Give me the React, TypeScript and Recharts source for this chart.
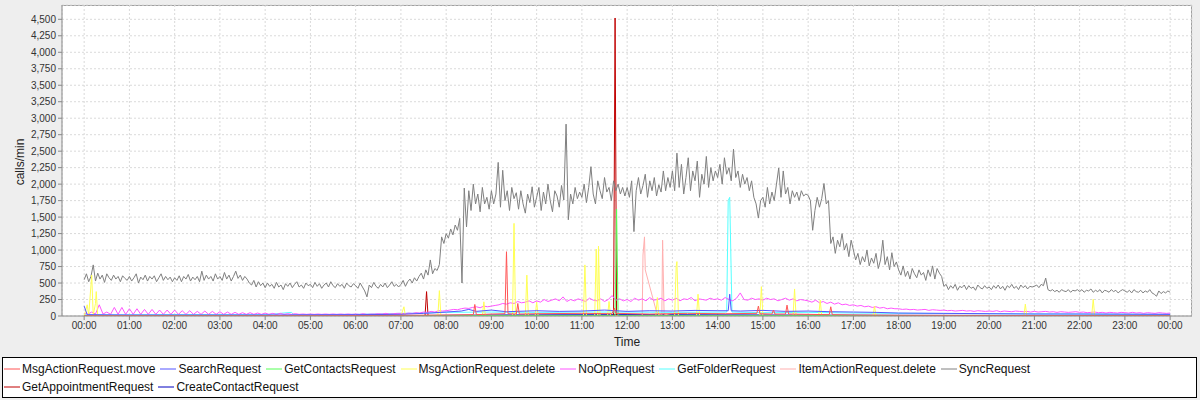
import React from 'react';
import { LineChart, Line, XAxis, YAxis, CartesianGrid } from 'recharts';

// SyncRequest: one value every 3 minutes, one row per hour (00:00 .. 23:57), then 24:00
const syncRequest = [
  550, 640, 520, 600, 775, 530, 650, 560, 620, 510, 640, 580, 540, 620, 560, 600, 520, 610, 570, 540,
  600, 530, 580, 640, 500, 590, 550, 620, 530, 600, 560, 610, 520, 580, 640, 540, 600, 550, 590, 520,
  580, 540, 610, 520, 600, 560, 630, 530, 590, 550, 600, 520, 680, 540, 620, 560, 600, 530, 640, 560,
  600, 540, 660, 560, 620, 530, 600, 680, 570, 620, 540, 600, 560, 500, 470, 540, 440, 520, 460, 500,
  430, 500, 450, 480, 420, 510, 440, 470, 400, 490, 450, 500, 430, 480, 520, 440, 470, 420, 500, 460,
  480, 430, 510, 450, 490, 420, 470, 500, 440, 520, 460, 430, 490, 450, 480, 420, 500, 460, 440, 490,
  460, 420, 500, 440, 380, 290, 470, 430, 510, 450, 420, 480, 440, 500, 430, 470, 520, 450, 480, 440,
  480, 540, 450, 520, 560, 500, 580, 530, 600, 650, 560, 700, 620, 850, 640, 720, 690, 780, 1200, 1100,
  1250, 1180, 1320, 1230, 1380, 1300, 1480, 500, 1940, 1350, 1900, 1600, 2000, 1700, 1850, 1580, 1950, 1700, 1800, 1620,
  1900, 1700, 1850, 2330, 1650, 2210, 1750, 1900, 1600, 1950, 1780, 1870, 1620, 1900, 1700, 1560, 1850, 1720, 1960, 1650,
  1800, 1950, 1600, 1880, 1700, 2000, 1750, 1580, 1900, 1820, 1650, 1980, 1760, 2910, 1460, 1850, 1700, 1950, 1780, 1880,
  1800, 2000, 1720, 1950, 2265, 1850, 1700, 2050, 1900, 1780, 2100, 1880, 1950, 1750, 2050, 1900, 2000, 1850, 1950, 1820,
  1950, 1800, 2050, 1280, 1900, 2100, 1850, 1980, 2150, 1800, 2050, 1900, 2100, 1820, 1990, 1880, 2200, 1900, 2100, 1950,
  2200, 1900, 2470, 1950, 2300, 1850, 2100, 2400, 1900, 2200, 2050, 2350, 1800, 2150, 2000, 2420, 1950, 2250, 2050, 2200,
  2100, 2300, 2000, 2400, 2150, 2250, 2050, 2530, 2100, 2200, 1950, 2150, 2000, 2100, 1900, 2050, 1800, 1700, 1485, 1750,
  1800, 1650, 1950, 1700, 1880, 1750, 2000, 2245, 1800, 2200, 1850, 1950, 1700, 1900, 1800, 1880, 1750, 1900, 1820, 1850,
  1830, 1750, 1300, 1600, 1800, 1650, 1780, 2010, 1700, 1750, 1100, 1200, 950, 1150, 1050, 1250, 1000, 1100, 900, 1150,
  1000, 850, 950, 780, 900, 820, 1000, 760, 880, 800, 950, 720, 850, 1150, 780, 900, 700, 960, 750, 820,
  700, 620, 760, 600, 680, 560, 720, 640, 580, 700, 620, 660, 540, 700, 600, 760, 560, 720, 650, 600,
  450, 480, 400, 460, 420, 480, 390, 450, 430, 470, 400, 460, 420, 440, 390, 470, 430, 410, 460, 420,
  440, 400, 460, 420, 470, 410, 450, 390, 460, 430, 480, 420, 450, 400, 470, 430, 460, 410, 450, 440,
  450, 470, 430, 480, 460, 575, 400, 380, 400, 370, 390, 360, 400, 380, 370, 400, 360, 390, 380, 400,
  370, 400, 360, 390, 380, 410, 360, 390, 370, 400, 350, 390, 380, 360, 400, 370, 390, 350, 380, 400,
  380, 360, 390, 350, 400, 370, 360, 390, 350, 380, 360, 400, 350, 330, 300, 380, 340, 370, 350, 380,
  360,
];

// NoOpRequest: one value every 5 minutes, one row per hour, then 24:00
const noOpRequest = [
  40, 30, 60, 30, 170, 30, 60, 25, 130, 25, 130, 25,
  110, 25, 110, 25, 100, 25, 100, 25, 90, 25, 90, 25,
  90, 25, 80, 25, 80, 25, 70, 25, 75, 25, 70, 25,
  65, 25, 60, 25, 55, 25, 50, 25, 50, 25, 45, 25,
  45, 25, 40, 25, 40, 25, 35, 25, 35, 25, 30, 25,
  30, 25, 30, 25, 30, 25, 30, 25, 30, 25, 30, 25,
  30, 25, 35, 25, 30, 30, 35, 30, 40, 30, 35, 40,
  40, 35, 45, 40, 50, 45, 60, 55, 70, 60, 80, 75,
  80, 90, 100, 95, 110, 120, 115, 130, 140, 125, 150, 140,
  150, 160, 170, 190, 180, 200, 190, 220, 200, 210, 230, 200,
  230, 210, 250, 220, 240, 260, 230, 290, 220, 250, 230, 260,
  240, 220, 270, 240, 230, 260, 220, 250, 310, 240, 260, 230,
  250, 220, 270, 240, 260, 230, 280, 240, 250, 270, 230, 260,
  240, 270, 230, 260, 250, 280, 230, 260, 250, 240, 270, 250,
  260, 240, 280, 250, 230, 270, 350, 250, 240, 270, 250, 260,
  240, 270, 250, 260, 230, 250, 270, 240, 260, 230, 250, 240,
  230, 210, 240, 200, 220, 190, 210, 180, 200, 170, 180, 160,
  170, 150, 160, 140, 150, 130, 140, 120, 130, 110, 120, 110,
  110, 100, 105, 95, 100, 90, 95, 100, 85, 95, 90, 85,
  90, 80, 85, 75, 80, 85, 75, 80, 70, 80, 75, 70,
  75, 70, 80, 65, 75, 70, 65, 75, 70, 65, 70, 60,
  70, 60, 65, 70, 60, 65, 55, 65, 60, 55, 60, 65,
  55, 60, 50, 55, 60, 50, 55, 45, 55, 50, 45, 55,
  50, 45, 55, 45, 50, 40, 50, 45, 40, 50, 45, 40,
  45,
];

// sparse series: [minute of day, calls/min]
const msgActionMove = [
  [0, 5], [300, 5], [420, 10], [480, 15], [516, 20], [518, 175], [520, 20], [540, 30], [558, 35], [560, 975],
  [562, 35], [573, 30], [575, 190], [577, 30], [600, 35], [660, 40], [700, 35], [703, 120], [705, 40], [750, 30],
  [800, 40], [850, 35], [892, 40], [894, 150], [896, 35], [912, 30], [914, 90], [916, 30], [930, 30], [932, 165],
  [934, 30], [960, 25], [988, 20], [990, 140], [992, 20], [1020, 15], [1080, 10], [1200, 8], [1440, 5],
];
const searchRequest = [
  [0, 150], [4, 20], [60, 15], [120, 15], [240, 15], [360, 20], [420, 25], [450, 40], [480, 60], [500, 75],
  [510, 100], [520, 70], [540, 90], [560, 65], [600, 80], [630, 70], [660, 75], [690, 90], [720, 70], [750, 80],
  [780, 75], [810, 85], [840, 80], [854, 80], [856, 330], [858, 80], [870, 75], [900, 85], [930, 70], [960, 75],
  [990, 65], [1020, 60], [1050, 55], [1080, 45], [1140, 40], [1200, 35], [1260, 30], [1320, 30], [1440, 25],
];
const getContactsRequest = [
  [0, 2], [420, 3], [540, 8], [704, 8], [706, 1620], [708, 8], [900, 8], [1080, 4], [1440, 2],
];
const msgActionDelete = [
  [0, 0], [4, 170], [6, 10], [10, 620], [12, 10], [15, 190], [16, 370], [18, 0], [420, 0], [424, 140],
  [426, 0], [469, 0], [471, 385], [473, 0], [528, 0], [530, 215], [532, 0], [568, 0], [570, 1405], [572, 0],
  [585, 0], [587, 620], [589, 0], [598, 0], [600, 210], [602, 0], [662, 0], [664, 775], [666, 0], [677, 0],
  [679, 1015], [681, 0], [682, 1060], [684, 0], [694, 0], [696, 220], [698, 0], [758, 0], [760, 280], [762, 0],
  [783, 0], [785, 750], [786, 825], [788, 0], [812, 0], [814, 330], [816, 0], [896, 0], [898, 445], [900, 0],
  [940, 0], [942, 410], [944, 0], [974, 0], [976, 240], [978, 0], [1046, 0], [1048, 150], [1050, 0], [1246, 0],
  [1248, 180], [1250, 0], [1336, 0], [1338, 255], [1340, 0], [1440, 0],
];
const getFolderRequest = [
  [0, 20], [30, 15], [120, 20], [240, 20], [275, 55], [278, 20], [360, 25], [420, 40], [460, 45], [480, 55],
  [540, 60], [600, 55], [660, 60], [720, 60], [780, 55], [852, 60], [854, 1750], [856, 1800], [859, 60], [900, 50],
  [960, 55], [1020, 45], [1080, 40], [1200, 35], [1320, 30], [1440, 25],
];
const itemActionDelete = [
  [0, 0], [400, 0], [740, 0], [741, 925], [743, 1200], [744, 700], [759, 60], [766, 0], [767, 1150], [769, 30],
  [780, 0], [1440, 0],
];
const getAppointmentRequest = [
  [0, 0], [452, 0], [454, 370], [456, 0], [702, 0], [704, 4520], [706, 0], [1440, 0],
];
const createContactRequest = [
  [0, 5], [420, 5], [540, 15], [720, 20], [900, 15], [1080, 10], [1440, 5],
];

const timeTicks = [0, 60, 120, 180, 240, 300, 360, 420, 480, 540, 600, 660, 720, 780, 840, 900, 960, 1020, 1080, 1140, 1200, 1260, 1320, 1380, 1440];
const callTicks = [0, 250, 500, 750, 1000, 1250, 1500, 1750, 2000, 2250, 2500, 2750, 3000, 3250, 3500, 3750, 4000, 4250, 4500];

const pairs = (arr) => arr.map(([t, v]) => ({ t, v }));
const stepped = (arr, step) => arr.map((v, i) => ({ t: i * step, v }));

// legend order (JFreeChart series order)
const series = [
  { name: 'MsgActionRequest.move', color: '#ff5555', data: pairs(msgActionMove) },
  { name: 'SearchRequest', color: '#5555ff', data: pairs(searchRequest) },
  { name: 'GetContactsRequest', color: '#55ff55', data: pairs(getContactsRequest) },
  { name: 'MsgActionRequest.delete', color: '#ffff55', data: pairs(msgActionDelete) },
  { name: 'NoOpRequest', color: '#ff55ff', data: stepped(noOpRequest, 5) },
  { name: 'GetFolderRequest', color: '#55ffff', data: pairs(getFolderRequest) },
  { name: 'ItemActionRequest.delete', color: '#ffafaf', data: pairs(itemActionDelete) },
  { name: 'SyncRequest', color: '#808080', data: stepped(syncRequest, 3) },
  { name: 'GetAppointmentRequest', color: '#c00000', data: pairs(getAppointmentRequest) },
  { name: 'CreateContactRequest', color: '#0000c0', data: pairs(createContactRequest) },
];

const FONT = '"Liberation Sans", Arial, sans-serif';

const fmtTime = (m) => {
  const h = Math.floor(m / 60) % 24;
  return `${h < 10 ? '0' : ''}${h}:00`;
};
const fmtNum = (v) => v.toLocaleString('en-US');

function LegendItem({ name, color }) {
  return (
    <span style={{ display: 'inline-flex', alignItems: 'center', marginRight: 5, height: 18 }}>
      <svg width={16} height={4} style={{ marginRight: 2, display: 'block' }}>
        <line x1={0} y1={2} x2={16} y2={2} stroke={color} strokeWidth={1} />
      </svg>
      <span>{name}</span>
    </span>
  );
}

export default function App() {
  const PLOT_LEFT = 62;
  const PLOT_TOP = 5;
  const PLOT_W = 1130;
  const PLOT_H = 311;
  return (
    <div style={{ position: 'absolute', left: 0, top: 0, width: 1200, height: 400, background: '#eeeeee', fontFamily: FONT, overflow: 'hidden' }}>
      {/* plot background + outline */}
      <div style={{ position: 'absolute', left: PLOT_LEFT, top: PLOT_TOP, width: PLOT_W, height: PLOT_H, background: '#ffffff', borderTop: '1px solid #a0a0a0', borderRight: '1px solid #a0a0a0', boxSizing: 'border-box' }} />
      <div style={{ position: 'absolute', left: 0, top: 0 }}>
        <LineChart width={1200} height={350} margin={{ top: PLOT_TOP, right: 8, left: 0, bottom: 0 }}>
          <CartesianGrid stroke="#dadada" strokeDasharray="2 2" />
          <XAxis
            dataKey="t"
            type="number"
            domain={[-29.4, 1469]}
            allowDataOverflow
            ticks={timeTicks}
            interval={0}
            tickFormatter={fmtTime}
            height={34}
            tickSize={4}
            tickMargin={2}
            stroke="#888888"
            tick={{ fontSize: 10, fill: '#333333', fontFamily: FONT }}
          />
          <YAxis
            type="number"
            domain={[0, 4717]}
            allowDataOverflow
            ticks={callTicks}
            interval={0}
            tickFormatter={fmtNum}
            width={PLOT_LEFT}
            tickSize={4}
            tickMargin={2}
            stroke="#888888"
            tick={{ fontSize: 10, fill: '#333333', fontFamily: FONT }}
          />
          {series.slice().reverse().map((s) => (
            <Line
              key={s.name}
              data={s.data}
              dataKey="v"
              name={s.name}
              type="linear"
              stroke={s.color}
              strokeWidth={1}
              dot={false}
              activeDot={false}
              isAnimationActive={false}
            />
          ))}
        </LineChart>
      </div>
      <div style={{ position: 'absolute', left: 4, top: 162, transform: 'translate(-50%, -50%) rotate(-90deg)', transformOrigin: 'center', marginLeft: 16, fontSize: 12, color: '#222', whiteSpace: 'nowrap' }}>
        calls/min
      </div>
      <div style={{ position: 'absolute', left: 627, top: 335, transform: 'translateX(-50%)', fontSize: 12, color: '#222' }}>
        Time
      </div>
      <div style={{ position: 'absolute', left: 2, top: 357, width: 1195, height: 41, border: '1px solid #000', background: '#fff', boxSizing: 'border-box', fontSize: 12, color: '#111', lineHeight: '18px', paddingLeft: 1, paddingTop: 2 }}>
        <div style={{ whiteSpace: 'nowrap', display: 'flex', height: 18 }}>
          {series.slice(0, 8).map((s) => <LegendItem key={s.name} name={s.name} color={s.color} />)}
        </div>
        <div style={{ whiteSpace: 'nowrap', display: 'flex', height: 18 }}>
          {series.slice(8).map((s) => <LegendItem key={s.name} name={s.name} color={s.color} />)}
        </div>
      </div>
    </div>
  );
}
